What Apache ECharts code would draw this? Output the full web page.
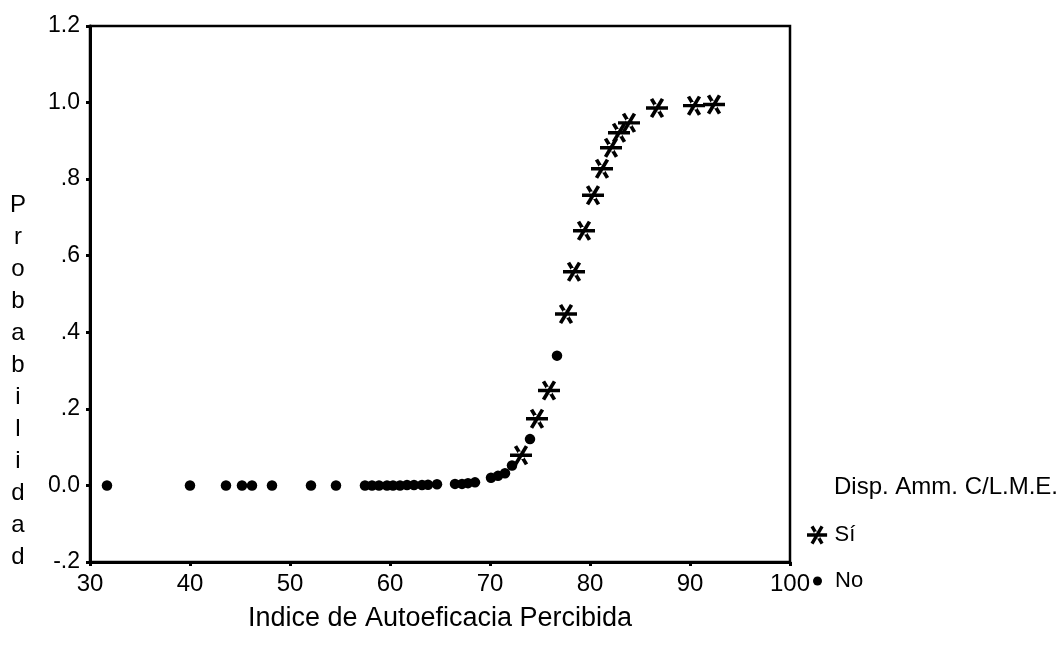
<!DOCTYPE html>
<html>
<head>
<meta charset="utf-8">
<script src="https://cdn.jsdelivr.net/npm/echarts@6/dist/echarts.min.js"></script>
<style>
  html, body { margin: 0; padding: 0; background: #fff; }
  #chart { width: 1062px; height: 653px; }
</style>
</head>
<body>
<div id="chart"></div>
<script>
// ---- data ----
var seriesNames = ['Sí', 'No'];
var legendTitle = 'Disp. Amm. C/L.M.E.';
var xAxisTitle = 'Indice de Autoeficacia Percibida';
var yAxisTitle = 'Probabilidad';
var yTickLabels = ['-.2', '0.0', '.2', '.4', '.6', '.8', '1.0', '1.2'];

// "Sí" group: [indice, probabilidad]
var siPoints = [
  [73.1, 0.079], [74.7, 0.174], [75.9, 0.248], [77.6, 0.448], [78.4, 0.558],
  [79.4, 0.665], [80.3, 0.758], [81.2, 0.827], [82.1, 0.882], [82.9, 0.921],
  [83.9, 0.947], [86.7, 0.986], [90.4, 0.992], [92.4, 0.995]
];
// "No" group: [indice, probabilidad]
var noPoints = [
  [31.7, 0.000], [40.0, 0.000], [43.6, 0.000], [45.2, 0.000], [46.2, 0.000],
  [48.2, 0.000], [52.1, 0.000], [54.6, 0.000], [57.5, 0.000], [58.2, 0.000],
  [58.9, 0.000], [59.7, 0.000], [60.3, 0.000], [61.0, 0.000], [61.7, 0.001],
  [62.4, 0.001], [63.2, 0.001], [63.8, 0.002], [64.7, 0.003], [66.5, 0.004],
  [67.2, 0.004], [67.8, 0.006], [68.5, 0.008], [70.1, 0.020], [70.8, 0.025],
  [71.5, 0.032], [72.2, 0.052], [74.0, 0.121], [76.7, 0.339]
];

// ---- style ----
var FONT = "'Liberation Sans', Arial, sans-serif";
var STAR = 'path://M-11,-1.8 L11,-1.8 L11,1.8 L-11,1.8 Z ' +
  'M3.9,10.4 L7.1,8.6 L-3.9,-10.4 L-7.1,-8.6 Z ' +
  'M-3.9,10.4 L-7.1,8.6 L3.9,-10.4 L7.1,-8.6 Z ' +
  'M-4.5,0 L-2.3,-3.9 L2.3,-3.9 L4.5,0 L2.3,3.9 L-2.3,3.9 Z';

var chart = echarts.init(document.getElementById('chart'), null, { renderer: 'canvas' });

var option = {
  backgroundColor: '#ffffff',
  animation: false,
  textStyle: { fontFamily: FONT, color: '#000' },
  title: {
    text: legendTitle,
    left: 834,
    top: 475,
    padding: 0,
    textStyle: { fontFamily: FONT, fontSize: 24, fontWeight: 'normal', color: '#000' }
  },
  graphic: [
    {
      type: 'text',
      x: 18,
      y: 381,
      style: {
        text: yAxisTitle.split('').join('\n'),
        fontFamily: FONT,
        fontSize: 24,
        fill: '#000',
        align: 'center',
        verticalAlign: 'middle',
        lineHeight: 32
      }
    }
  ],
  legend: [
    {
      data: [{ name: seriesNames[0], icon: STAR }],
      orient: 'vertical',
      left: 807,
      top: 523,
      padding: 0,
      itemWidth: 21,
      itemHeight: 19,
      itemStyle: { opacity: 1 },
      textStyle: { fontFamily: FONT, fontSize: 22, color: '#000', lineHeight: 24, padding: [0, 0, 0, 2] },
      selectedMode: false
    },
    {
      data: [{ name: seriesNames[1], icon: 'circle' }],
      orient: 'vertical',
      left: 813,
      top: 569,
      padding: 0,
      itemWidth: 9,
      itemHeight: 9,
      itemStyle: { opacity: 1 },
      textStyle: { fontFamily: FONT, fontSize: 22, color: '#000', lineHeight: 24, padding: [0, 0, 0, 8] },
      selectedMode: false
    }
  ],
  grid: {
    left: 90,
    top: 26,
    width: 700,
    height: 536,
    show: true,
    borderColor: '#000',
    borderWidth: 2.5,
    backgroundColor: 'transparent'
  },
  xAxis: {
    type: 'value',
    min: 30,
    max: 100,
    interval: 10,
    name: xAxisTitle,
    nameLocation: 'middle',
    nameGap: 43,
    nameTextStyle: { fontFamily: FONT, fontSize: 27, color: '#000' },
    axisLine: { show: true, onZero: false, lineStyle: { color: '#000', width: 3 } },
    axisTick: { show: true, length: 4, lineStyle: { color: '#000', width: 3 } },
    axisLabel: { margin: 10, fontFamily: FONT, fontSize: 24, color: '#000' },
    splitLine: { show: false }
  },
  yAxis: {
    type: 'value',
    min: -0.2,
    max: 1.2,
    interval: 0.2,
    axisLine: { show: true, onZero: false, lineStyle: { color: '#000', width: 3 } },
    axisTick: { show: true, length: 4, lineStyle: { color: '#000', width: 3 } },
    axisLabel: {
      margin: 10, fontFamily: FONT, fontSize: 23, color: '#000',
      formatter: function (v) {
        var idx = Math.round((v + 0.2) / 0.2);
        return yTickLabels[idx] !== undefined ? yTickLabels[idx] : '';
      }
    },
    splitLine: { show: false }
  },
  series: [
    {
      name: seriesNames[0],
      type: 'scatter',
      data: siPoints,
      symbol: STAR,
      symbolSize: [22, 20],
      itemStyle: { color: '#000', opacity: 1 },
      z: 3
    },
    {
      name: seriesNames[1],
      type: 'scatter',
      data: noPoints,
      symbol: 'circle',
      symbolSize: 10.5,
      itemStyle: { color: '#000', opacity: 1 },
      z: 2
    }
  ]
};

chart.setOption(option);
</script>
</body>
</html>
